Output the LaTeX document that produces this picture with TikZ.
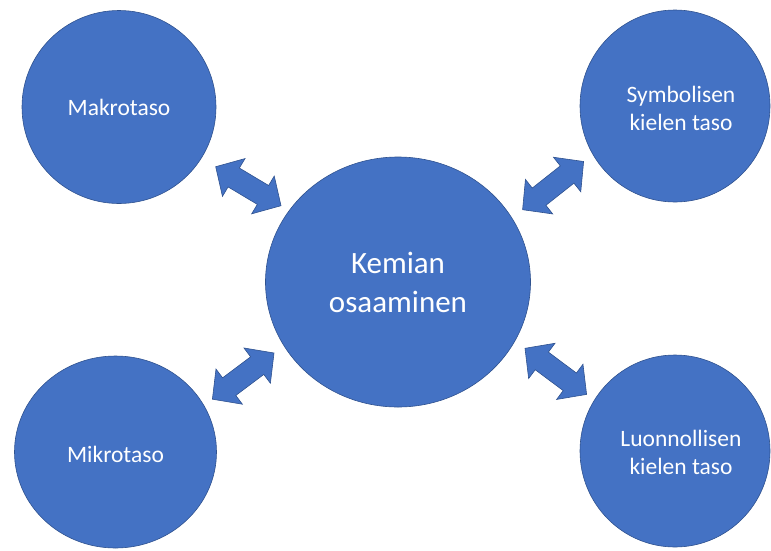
\documentclass[tikz,border=0pt]{standalone}
\usepackage{fontspec}
\setmainfont{Carlito}
\usetikzlibrary{shapes.geometric,calc}
\definecolor{officeblue}{HTML}{4472C4}
\definecolor{officeedge}{HTML}{2F528F}
\tikzset{
  bubble/.style={ellipse, fill=officeblue, draw=officeedge, line width=0.6pt, inner sep=0pt, text=white, align=center,
     font=\fontsize{23.5}{28}\selectfont},
  bigbubble/.style={bubble, font=\fontsize{31}{39}\selectfont},
  bubbletext/.style={text=white, align=center, inner sep=0pt, font=\fontsize{23.5}{28}\selectfont},
  blockarrowstyle/.style={fill=officeblue, draw=officeedge, line width=0.6pt, line join=miter},
}
\newcommand\blockarrow[2]{%
  \draw[blockarrowstyle] (#1)
   -- ($(#1)!21pt!(#2)!22pt!90:(#2)$)
   -- ($(#1)!21pt!(#2)!11pt!90:(#2)$)
   -- ($(#2)!21pt!(#1)!11pt!-90:(#1)$)
   -- ($(#2)!21pt!(#1)!22pt!-90:(#1)$)
   -- (#2)
   -- ($(#2)!21pt!(#1)!22pt!90:(#1)$)
   -- ($(#2)!21pt!(#1)!11pt!90:(#1)$)
   -- ($(#1)!21pt!(#2)!11pt!-90:(#2)$)
   -- ($(#1)!21pt!(#2)!22pt!-90:(#2)$)
   -- cycle;}
\begin{document}
\begin{tikzpicture}[x=1pt,y=-1pt]
\useasboundingbox (0,0) rectangle (771,550);
\clip (0,0) rectangle (771,550);
\node[bubble, minimum width=194pt, minimum height=193pt] (makro) at (119,107) {Makrotaso};
\node[bubble, minimum width=190pt, minimum height=192pt] (symb) at (675,106) {};
\node[bubbletext] (symbtext) at (681,108.5) {Symbolisen\\kielen taso};
\node[bubble, minimum width=202pt, minimum height=192pt] (mikro) at (115.5,452) {};
\node[bubbletext] (mikrotext) at (115.5,454.5) {Mikrotaso};
\node[bubble, minimum width=190pt, minimum height=192pt] (luon) at (675,451) {};
\node[bubbletext] (luontext) at (681,452.5) {Luonnollisen\\kielen taso};
\node[bigbubble, minimum width=265pt, minimum height=250pt] (kemia) at (398,282) {Kemian\\osaaminen};
% arrow end points
\coordinate (tlA) at (215.7,166.7);
\coordinate (tlB) at (281,205.7);
\coordinate (trA) at (522.6,209.7);
\coordinate (trB) at (583.6,161.5);
\coordinate (blA) at (212.4,399.2);
\coordinate (blB) at (274,353);
\coordinate (brA) at (525,348.3);
\coordinate (brB) at (586.6,394.4);
\blockarrow{tlA}{tlB}
\blockarrow{trA}{trB}
\blockarrow{blA}{blB}
\blockarrow{brA}{brB}
\end{tikzpicture}
\end{document}
